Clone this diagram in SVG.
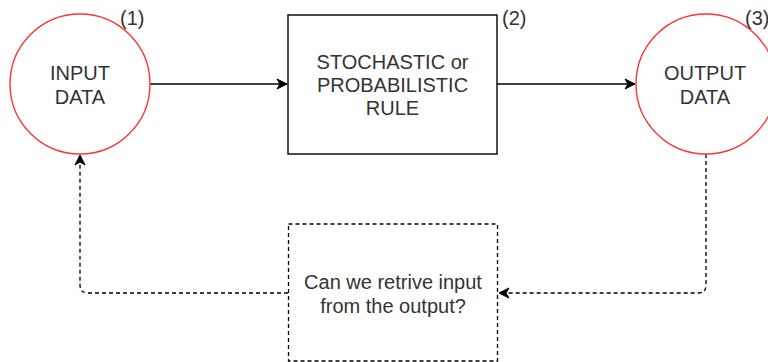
<svg xmlns="http://www.w3.org/2000/svg" width="768" height="362" viewBox="0 0 768 362">
  <style>
    .lbl { font-family: "Liberation Sans", Arial, sans-serif; font-size: 20px; fill: #333333; text-anchor: middle; }
    .num { font-family: "Liberation Sans", Arial, sans-serif; font-size: 20px; fill: #333333; }
    .circle { fill: #ffffff; stroke: #ff3333; stroke-width: 1.4; }
    .box { fill: #ffffff; stroke: #000000; stroke-width: 1.4; }
    .dbox { fill: #ffffff; stroke: #000000; stroke-width: 1.3; stroke-dasharray: 4 3; }
    .edge { fill: none; stroke: #000000; stroke-width: 1.4; }
    .dedge { fill: none; stroke: #000000; stroke-width: 1.3; stroke-dasharray: 4 3; }
  </style>
  <defs>
    <marker id="arrow" markerUnits="userSpaceOnUse" markerWidth="12" markerHeight="12" viewBox="0 0 12 12" refX="11" refY="6" orient="auto">
      <path d="M1,1 L11,6 L1,11 L4,6 Z" fill="#000000" stroke="#000000" stroke-width="1"/>
    </marker>
  </defs>

  <g id="connectors">
    <path class="edge" d="M150,84 L287,84" marker-end="url(#arrow)"/>
    <path class="edge" d="M497,84 L635,84" marker-end="url(#arrow)"/>
    <path class="dedge" d="M706,154 L706,285 Q706,293 698,293 L499,293" marker-end="url(#arrow)"/>
    <path class="dedge" d="M288,293 L88,293 Q80,293 80,285 L80,155" marker-end="url(#arrow)"/>
  </g>

  <g id="input-data">
    <circle class="circle" cx="80" cy="84" r="70"/>
    <text class="lbl" x="80" y="80">INPUT</text>
    <text class="lbl" x="80" y="104">DATA</text>
    <text class="num" x="120" y="25">(1)</text>
  </g>

  <g id="rule">
    <rect class="box" x="288" y="15" width="209" height="139"/>
    <text class="lbl" x="392.5" y="69">STOCHASTIC or</text>
    <text class="lbl" x="392.5" y="92">PROBABILISTIC</text>
    <text class="lbl" x="392.5" y="115">RULE</text>
    <text class="num" x="502" y="25">(2)</text>
  </g>

  <g id="output-data">
    <circle class="circle" cx="706" cy="84" r="70"/>
    <text class="lbl" x="705" y="80">OUTPUT</text>
    <text class="lbl" x="705" y="104">DATA</text>
    <text class="num" x="745" y="25">(3)</text>
  </g>

  <g id="question">
    <rect class="dbox" x="288.5" y="224" width="209" height="137"/>
    <text class="lbl" x="393" y="289">Can we retrive input</text>
    <text class="lbl" x="393" y="313">from the output?</text>
  </g>
</svg>
